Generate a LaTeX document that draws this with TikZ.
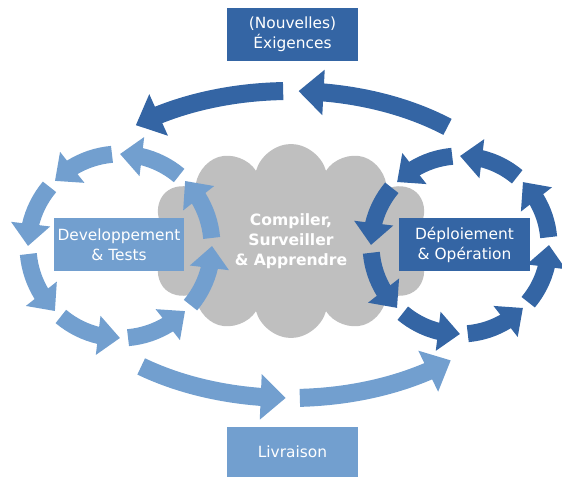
\documentclass[tikz,border=0pt]{standalone}
\usepackage{fontspec}
\setmainfont{DejaVu Sans}
\usepackage{tikz}
\usetikzlibrary{arrows.meta,bending,shapes.symbols}

\definecolor{bleufonce}{HTML}{3465A4}
\definecolor{bleuclair}{HTML}{729FCF}
\definecolor{nuagegris}{HTML}{BFBFBF}

\begin{document}
\begin{tikzpicture}[x=1pt, y=1pt,
    boite/.style={minimum width=131pt, minimum height=53pt, inner sep=0pt, align=center, text=white, font=\fontsize{15.4}{20}\selectfont},
    fleche/.style={line width=17pt, -{Triangle[width=38pt,length=22pt]}},
    grandefleche/.style={line width=18pt, -{Triangle[width=44pt,length=25pt]}}]
    \useasboundingbox (0,0) rectangle (562,477);
    % nuage central
    \node[cloud, cloud puffs=12, aspect=1.5, fill=nuagegris, minimum width=290pt, minimum height=194pt,
          text=white, font=\bfseries\fontsize{15.6}{20}\selectfont, align=center] (nuage) at (291,236)
          {Compiler,\\Surveiller\\\& Apprendre};
    % boites
    \node[boite, fill=bleufonce] (exigences) at (292.5,442.5) {(Nouvelles)\\Éxigences};
    \node[boite, fill=bleuclair, minimum height=50pt] (livraison) at (292.5,25) {Livraison};
    \node[boite, fill=bleuclair, minimum width=130pt] (dev) at (119,232.5) {Developpement\\\& Tests};
    \node[boite, fill=bleufonce] (ops) at (464.5,232.5) {Déploiement\\\& Opération};
    % centres des cycles
    \coordinate (cdev) at (120,231);
    \coordinate (cops) at (460,232);
    \coordinate (cgrand) at (290,232.5);
    % petits cycles
    \foreach \a in {5,50,...,320} {
        \draw[fleche, bleuclair] (cdev) ++(\a:92pt) arc[start angle=\a, delta angle=40, radius=92pt];
        \draw[fleche, bleufonce] (cops) ++(\a:89pt) arc[start angle=\a, delta angle=40, radius=89pt];
    }
    % grand cycle
    \draw[grandefleche, bleufonce] (cgrand) ++(50:245pt and 153.5pt) arc[start angle=50, end angle=88, x radius=245pt, y radius=153.5pt];
    \draw[grandefleche, bleufonce] (cgrand) ++(91.6:245pt and 153.5pt) arc[start angle=91.6, end angle=129, x radius=245pt, y radius=153.5pt];
    \draw[grandefleche, bleuclair] (cgrand) ++(232.6:245pt and 153.5pt) arc[start angle=232.6, end angle=269, x radius=245pt, y radius=153.5pt];
    \draw[grandefleche, bleuclair] (cgrand) ++(272.3:245pt and 153.5pt) arc[start angle=272.3, end angle=311, x radius=245pt, y radius=153.5pt];
\end{tikzpicture}
\end{document}
